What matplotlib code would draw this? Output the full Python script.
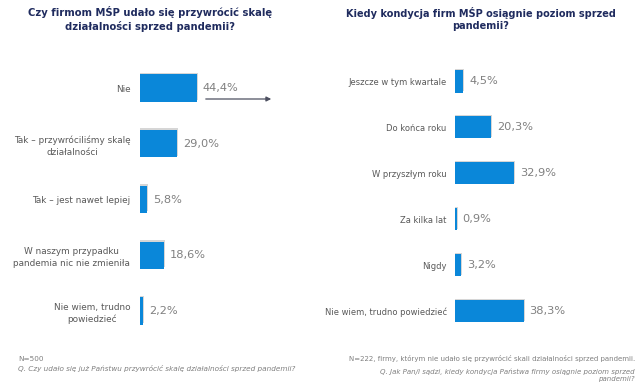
import matplotlib
matplotlib.use("Agg")
import matplotlib.pyplot as plt
from matplotlib.patches import FancyArrowPatch

plt.rcParams['font.family'] = ['DejaVu Sans']

left_cats = ["Nie", "Tak – przywróciliśmy skalę\ndziałalności", "Tak – jest nawet lepiej",
             "W naszym przypadku\npandemia nic nie zmieniła", "Nie wiem, trudno\npowiedzieć"]
left_vals = [44.4, 29.0, 5.8, 18.6, 2.2]
left_labels = ["44,4%", "29,0%", "5,8%", "18,6%", "2,2%"]

right_cats = ["Jeszcze w tym kwartale", "Do końca roku", "W przyszłym roku", "Za kilka lat",
              "Nigdy", "Nie wiem, trudno powiedzieć"]
right_vals = [4.5, 20.3, 32.9, 0.9, 3.2, 38.3]
right_labels = ["4,5%", "20,3%", "32,9%", "0,9%", "3,2%", "38,3%"]

W, H = 640, 387
fig = plt.figure(figsize=(W/100, H/100), dpi=100)

BAR = "#0a87d9"
TITLE = "#1f2b5e"
CAT = "#595959"
VAL = "#808080"

def px_axes(x0, y_top, width, y_bot):
    return fig.add_axes([x0/W, 1 - y_bot/H, width/W, (y_bot - y_top)/H])

def draw(ax, cats, vals, labels, h, xmax, fs_cat, fs_val, pad):
    n = len(cats)
    ys = list(range(n))
    # soft shadow
    ax.barh([y - 0.03 for y in ys], [v + 0.6 for v in vals], height=h, color="#d6d6d6", zorder=1)
    ax.barh(ys, vals, height=h, color=BAR, zorder=2)
    ax.set_xlim(0, xmax)
    ax.set_ylim(n - 0.5, -0.5)
    ax.set_yticks(ys)
    ax.set_yticklabels(cats, fontsize=fs_cat, color=CAT, ha="right", multialignment="center",
                       linespacing=1.4)
    ax.tick_params(axis="y", length=0, pad=pad)
    ax.set_xticks([])
    for s in ax.spines.values():
        s.set_visible(False)
    for y, v, l in zip(ys, vals, labels):
        ax.annotate(l, (v, y), xytext=(6, 0), textcoords="offset pixels",
                    va="center", ha="left", fontsize=fs_val, color=VAL)

# left chart: bar start 140px, 1.28 px per %, centers 88..311
axL = px_axes(140, 88 - 55.75/2, 128, 311 + 55.75/2)
draw(axL, left_cats, left_vals, left_labels, 0.49, 100, 6.4, 8.2, 7)

# right chart: bar start 455px, 1.79 px per %, centers 81.5..311
sp = (311 - 81.5)/5
axR = px_axes(455, 81.5 - sp/2, 179, 311 + sp/2)
draw(axR, right_cats, right_vals, right_labels, 0.48, 100, 6.0, 8.2, 6)

# arrow
arr = FancyArrowPatch((203/W, 1 - 99/H), (274/W, 1 - 99/H), transform=fig.transFigure,
                      arrowstyle="-|>", mutation_scale=7, color="#4d5060", lw=0.9)
fig.patches.append(arr)

# titles
fig.text(150/W, 1 - 19/H, "Czy firmom MŚP udało się przywrócić skalę\ndziałalności sprzed pandemii?",
         ha="center", va="center", fontsize=7.2, fontweight="bold", color=TITLE, linespacing=1.25)
fig.text(481/W, 1 - 19/H, "Kiedy kondycja firm MŚP osiągnie poziom sprzed\npandemii?",
         ha="center", va="center", fontsize=7.0, fontweight="bold", color=TITLE, linespacing=1.3)

# footnotes
FN = "#7f7f7f"
fig.text(18/W, 1 - 359/H, "N=500", fontsize=5.2, color=FN, va="center", ha="left")
fig.text(18/W, 1 - 369/H, "Q. Czy udało się już Państwu przywrócić skalę działalności sprzed pandemii?",
         fontsize=5.2, color=FN, va="center", ha="left", style="italic")
fig.text(635/W, 1 - 359/H, "N=222, firmy, którym nie udało się przywrócić skali działalności sprzed pandemii.",
         fontsize=5.0, color=FN, va="center", ha="right")
fig.text(635/W, 1 - 375.5/H, "Q. Jak Pan/i sądzi, kiedy kondycja Państwa firmy osiągnie poziom sprzed\npandemii?",
         fontsize=5.0, color=FN, va="center", ha="right", style="italic", multialignment="right",
         linespacing=1.25)

fig.savefig("out.png", dpi=100)
